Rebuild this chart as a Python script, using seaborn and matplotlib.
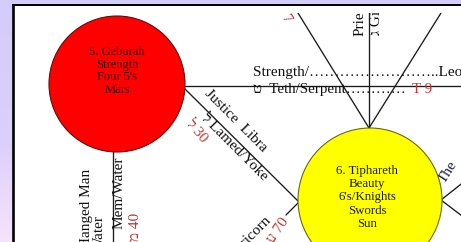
import numpy as np
import pandas as pd
import matplotlib
matplotlib.use("Agg")
import matplotlib.pyplot as plt
from matplotlib.patches import Circle, Rectangle
import seaborn as sns

# ---------------- data ----------------
geburah_lines = ["5. Geburah", "Strength", "Four 5's", "Mars"]
tiphareth_lines = ["6. Tiphareth", "Beauty", "6's/Knights", "Swords", "Sun"]
node_x = [117, 370]
node_y = [84, 200]
node_r = [68, 72]
node_fill = ["#ff0000", "#ffff00"]
node_edge = ["#5a1010", "#6a6a10"]

path_id = ["h", "h", "lamed", "lamed", "gimel", "gimel", "zayin", "zayin",
           "he", "he", "mem", "mem", "ayin", "ayin", "r1", "r1", "r2", "r2"]
path_x = [185, 475, 185, 298, 369, 369, 298, 369,
          441, 369, 112.5, 112.5, 298, 286, 441, 470, 441, 470]
path_y = [86, 86, 89, 201, 5, 128, 13, 128,
          13, 128, 150, 260, 203, 215, 200, 177, 200, 222]

FAM = ["Liberation Serif", "DejaVu Sans"]

# ---------------- figure ----------------
sns.set_style("white")
fig = plt.figure(figsize=(4.61, 2.42), dpi=100)

# background axes (full figure, pixel coordinates)
bg = fig.add_axes([0, 0, 1, 1])
bg.set_xlim(0, 461)
bg.set_ylim(242, 0)
bg.axis("off")
top_c = np.array([212, 204, 250]) / 255
mid_c = np.array([220, 208, 252]) / 255
bot_c = np.array([246, 226, 251]) / 255
ys = np.linspace(0, 1, 242)[:, None]
grad = np.where(ys < 0.6, top_c + (mid_c - top_c) * (ys / 0.6),
                mid_c + (bot_c - mid_c) * ((ys - 0.6) / 0.4))
grad = np.repeat(grad[:, None, :], 2, axis=1)
bg.imshow(grad, extent=[0, 461, 242, 0], aspect="auto", zorder=0)
bg.add_patch(Rectangle((13, 5), 460, 250, facecolor="white", edgecolor="none", zorder=1))
bg.plot([13, 13], [4, 250], color="black", lw=1.9, solid_capstyle="butt", zorder=2)
bg.plot([12, 470], [5, 5], color="black", lw=1.4, solid_capstyle="butt", zorder=2)

# content axes (clipped)
x0, y0 = 14.5, 13
ax = fig.add_axes([x0 / 461, 0, (461 - x0) / 461, (242 - y0) / 242])
ax.patch.set_alpha(0)

paths = pd.DataFrame({"path": path_id, "x": path_x, "y": path_y})
sns.lineplot(data=paths, x="x", y="y", units="path", estimator=None, sort=False,
             color="#1a1a1a", lw=0.95, ax=ax, legend=False, zorder=2)

for cx, cy, r, fc, ec in zip(node_x, node_y, node_r, node_fill, node_edge):
    ax.add_patch(Circle((cx, cy), r, facecolor=fc, edgecolor=ec, lw=0.8, zorder=4))

for i, s in enumerate(geburah_lines):
    ax.text(node_x[0], 55 + 12.6 * i, s, ha="center", va="baseline", fontsize=9,
            color="#2a0000", family=FAM, zorder=5, clip_on=True)
for i, s in enumerate(tiphareth_lines):
    ax.text(node_x[1] - 3, 174 + 13.2 * i, s, ha="center", va="baseline", fontsize=9.3,
            color="#1a1a00", family=FAM, zorder=5, clip_on=True)

red = "#c83232"
TXT = "#111111"
fs = 11

def t(x, y, s, rot=0, ha="left", va="baseline", color=TXT, size=fs, z=3):
    ax.text(x, y, s, rotation=rot, rotation_mode="anchor", ha=ha, va=va,
            color=color, fontsize=size, family=FAM, zorder=z, clip_on=True)

# horizontal path labels
t(253, 76, "Strength/\u2026\u2026\u2026\u2026\u2026\u2026\u2026\u2026..Leo")
t(253, 93, "\u05d8  Teth/Serpent\u2026\u2026\u2026\u2026", size=10.8)
t(412, 93, "T 9", color=red, size=10.8)

# vertical (gimel) labels
t(364, 36, "Priestess", rot=90, va="baseline")
t(380, 35, "\u05d2 Gimel/Camel", rot=90, va="baseline")

# zayin red number
t(284, 16, "7", rot=-58, va="center", color=red)

# lamed labels
t(236, 121, "Justice  Libra", rot=-45, ha="center", va="center")
t(234, 147, "\u05dc Lamed/Yoke", rot=-45, ha="center", va="center", z=1)
t(196, 131, "\u05dc 30", rot=-50, ha="center", va="center", color=red)

# mem labels
t(90, 248, "Hanged Man", rot=90, va="baseline")
t(103, 251, "Water", rot=90, va="baseline")
t(123, 229, "Mem/Water", rot=90, va="baseline", z=3)
t(139, 241, "\u05de 40", rot=90, va="baseline", color=red)

# ayin labels
t(272, 221, "Devil/Capricorn", rot=45, ha="right", va="baseline")
t(289, 221, "\u05e2 70", rot=55, ha="right", va="baseline", color=red)

# netzach side label
t(445, 184, "The", rot=58, va="baseline", color="#1a1a4a")

ax.set_xlim(x0, 461)
ax.set_ylim(242, y0)
ax.set_aspect("auto")
ax.axis("off")

fig.savefig("out.png", dpi=100)
